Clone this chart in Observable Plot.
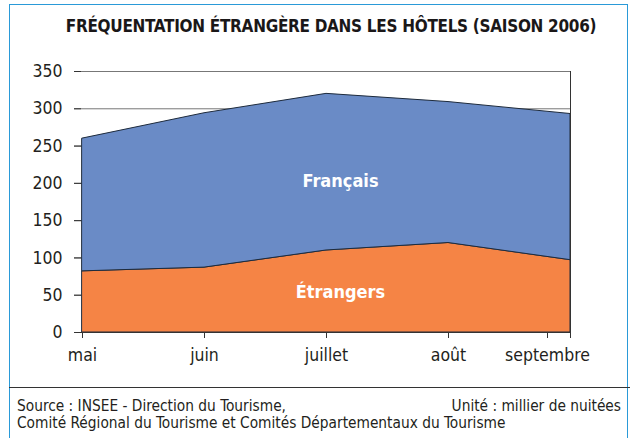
<!DOCTYPE html>
<html>
<head>
<meta charset="utf-8">
<script src="https://cdn.jsdelivr.net/npm/d3@7"></script>
<script src="https://cdn.jsdelivr.net/npm/@observablehq/plot@0.6"></script>
<style>
  html, body { margin: 0; padding: 0; background: #fff; }
  #wrap { position: relative; width: 630px; height: 438px; overflow: hidden; font-family: "DejaVu Sans Condensed", "DejaVu Sans", sans-serif; }
  #frame { position: absolute; left: 9px; top: 4px; width: 619px; height: 440px; border: 1.5px solid #2a9ad8; border-bottom: none; box-sizing: border-box; }
  #sep { position: absolute; left: 9px; top: 387px; width: 621px; height: 0; border-top: 1.3px solid #333; }
  #title { position: absolute; left: 16px; width: 630px; top: 16px; text-align: center; font-weight: bold; font-size: 17px; letter-spacing: -0.3px; color: #1a1718; white-space: nowrap; }
  #chart { position: absolute; left: 0; top: 50px; }
  .foot { position: absolute; font-size: 15.3px; color: #231f20; white-space: nowrap; }
</style>
</head>
<body>
<div id="wrap">
  <div id="frame"></div>
  <div id="title">FRÉQUENTATION ÉTRANGÈRE DANS LES HÔTELS (SAISON 2006)</div>
  <div id="chart"></div>
  <div id="sep"></div>
  <div class="foot" style="left:17px; top:397px;">Source : INSEE - Direction du Tourisme,</div>
  <div class="foot" style="right:9px; top:397px;">Unité : millier de nuitées</div>
  <div class="foot" style="left:17px; top:414px;">Comité Régional du Tourisme et Comités Départementaux du Tourisme</div>
</div>
<script>
const months = ["mai", "juin", "juillet", "août", "septembre"];
const etrangers = [82, 87, 110, 120, 97];
const francais = [178, 207, 210, 189, 196];
const seriesNames = ["Étrangers", "Français"];
const seriesColors = ["#f58445", "#6a8bc6"];
const yTicks = [0, 50, 100, 150, 200, 250, 300, 350];
const labelY = [54, 203];

const data = [];
months.forEach((m, i) => {
  data.push({month: m, series: "Étrangers", value: etrangers[i]});
  data.push({month: m, series: "Français", value: francais[i]});
});
const labels = seriesNames.map((s, i) => ({series: s, month: "juillet", y: labelY[i]}));

const plot = Plot.plot({
  width: 630,
  height: 320,
  marginLeft: 81,
  marginRight: 60,
  marginTop: 21,
  marginBottom: 38,
  style: {fontFamily: "'DejaVu Sans Condensed', sans-serif", fontSize: "17.5px", color: "#231f20", background: "transparent"},
  x: {type: "point", domain: months, padding: 0, label: null},
  y: {domain: [0, 350], label: null},
  color: {domain: seriesNames, range: seriesColors},
  marks: [
    Plot.ruleY(yTicks, {stroke: "#777", strokeWidth: 1, insetLeft: -7}),
    Plot.areaY(data, {x: "month", y: "value", fill: "series", z: "series", order: seriesNames, stroke: "#1e2b3c", strokeWidth: 1, fillOpacity: 1}),
    Plot.axisY({ticks: yTicks, tickSize: 7, tickPadding: 12, stroke: "#333", fontSize: "17.5px"}),
    Plot.axisX({ticks: months.slice(0, 4), tickSize: 6, tickPadding: 10, stroke: "#333", fontSize: "17.5px"}),
    Plot.axisX({ticks: months.slice(4), tickSize: 6, tickPadding: 10, stroke: "#333", fontSize: "17.5px", dx: -23}),
    Plot.tickX(months.slice(4), {x: d => d, y1: 0, y2: 0, stroke: "#333", insetBottom: -6}),
    Plot.ruleY([0], {stroke: "#333", strokeWidth: 1.2}),
    Plot.text(labels, {x: "month", y: "y", text: "series", fill: "white", fontWeight: "bold", fontSize: 18, dx: 14})
  ]
});
document.getElementById("chart").appendChild(plot);
</script>
</body>
</html>
